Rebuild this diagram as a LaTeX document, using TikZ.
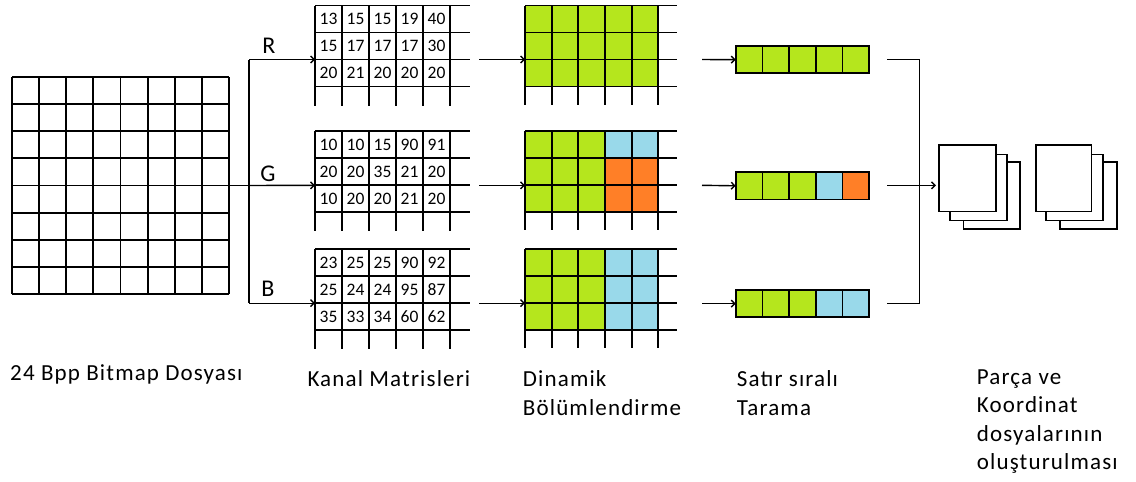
\documentclass[tikz,border=0pt]{standalone}
\usepackage{fontspec}
\setmainfont{Carlito}
\usetikzlibrary{arrows.meta}
\definecolor{pgreen}{HTML}{B5E61D}
\definecolor{pblue}{HTML}{99D9EA}
\definecolor{porange}{HTML}{FF7F27}
\newcommand\chgrid[2]{%
  \foreach \i in {0,...,5} \draw[gridline] ({#1+27*\i},#2) -- ({#1+27*\i},{#2+100});
  \foreach \j in {0,...,3} \draw[gridline] (#1,{#2+27*\j}) -- ({#1+155},{#2+27*\j});
}
\newcommand\dngrid[2]{%
  \foreach \i in {0,...,5} \draw[gridline] ({#1+26.667*\i},#2) -- ({#1+26.667*\i},{#2+99});
  \foreach \j in {0,...,3} \draw[gridline] (#1,{#2+27*\j}) -- ({#1+152},{#2+27*\j});
}
\newcommand\captext[1]{\begin{tabular}[t]{@{}l@{}}#1\end{tabular}}
\begin{document}
\begin{tikzpicture}[x=1pt,y=-1pt,
  gridline/.style={line width=1.8pt,black},
  conn/.style={line width=1.4pt,black},
  arr/.style={conn,-{Straight Barb[length=3.5pt,width=7pt]}},
  box/.style={draw=none,inner sep=0pt,outer sep=0pt},
  lbl/.style={anchor=base west,inner sep=0pt,font=\fontsize{23}{28.5}\selectfont\addfontfeature{LetterSpace=5}},
  chl/.style={anchor=base,inner sep=0pt,font=\fontsize{24}{24}\selectfont},
  num/.style={inner sep=0pt,font=\fontsize{17.5}{17.5}\selectfont},
  cell/.style={draw=black,line width=1.8pt},
  doc/.style={draw=black,fill=white,line width=1.6pt}]
\useasboundingbox (0,0) rectangle (1136,482);

% ---------- bitmap ----------
\node[box,minimum width=217pt,minimum height=217pt] (bmp) at (120.5,185.5) {};
\foreach \i in {0,...,8} {
  \draw[gridline] ({12+27.125*\i},77) -- ({12+27.125*\i},294);
  \draw[gridline] (12,{77+27.125*\i}) -- (229,{77+27.125*\i});
}

% ---------- channel matrices ----------
\chgrid{315}{5.5}
\chgrid{315}{131.3}
\chgrid{315}{249.2}
\node[box,minimum width=135pt,minimum height=81pt] (chR) at (382.5,46) {};
\node[box,minimum width=135pt,minimum height=81pt] (chG) at (382.5,171.8) {};
\node[box,minimum width=135pt,minimum height=81pt] (chB) at (382.5,289.7) {};
\coordinate (chR-in) at (315,59.5);
\coordinate (chG-in) at (315,185.3);
\coordinate (chB-in) at (315,303.2);

\foreach \row [count=\r from 0] in {{13,15,15,19,40},{15,17,17,17,30},{20,21,20,20,20}}
  \foreach \v [count=\c from 0] in \row
    \node[num] (nR-\r-\c) at ({315+27*(\c+0.5)},{5.5+27*(\r+0.5)}) {\v};
\foreach \row [count=\r from 0] in {{10,10,15,90,91},{20,20,35,21,20},{10,20,20,21,20}}
  \foreach \v [count=\c from 0] in \row
    \node[num] (nG-\r-\c) at ({315+27*(\c+0.5)},{131.3+27*(\r+0.5)}) {\v};
\foreach \row [count=\r from 0] in {{23,25,25,90,92},{25,24,24,95,87},{35,33,34,60,62}}
  \foreach \v [count=\c from 0] in \row
    \node[num] (nB-\r-\c) at ({315+27*(\c+0.5)},{249.2+27*(\r+0.5)}) {\v};

% ---------- split connectors ----------
\coordinate (sT) at (249,59.5);
\coordinate (sM) at (249,185.5);
\coordinate (sB) at (249,303.2);
\draw[conn] (sT) -- (sB);
\draw[conn] (bmp.east) -- (sM);
\draw[arr] (sT) -- (chR-in);
\draw[arr] (sM) -- (chG-in);
\draw[arr] (sB) -- (chB-in);
\node[chl] (lR) at (269,53) {R};
\node[chl] (lG) at (268,181) {G};
\node[chl] (lB) at (268,296) {B};

% ---------- dynamic partitioning ----------
\fill[pgreen] (525,5.5) rectangle ++(133.33,81);
\fill[pgreen] (525,131.3) rectangle ++(80,81);
\fill[pblue] (605,131.3) rectangle ++(53.33,27);
\fill[porange] (605,158.3) rectangle ++(53.33,54);
\fill[pgreen] (525,249.2) rectangle ++(80,81);
\fill[pblue] (605,249.2) rectangle ++(53.33,81);
\dngrid{525}{5.5}
\dngrid{525}{131.3}
\dngrid{525}{249.2}
\coordinate (dR-from) at (479,59.5);
\coordinate (dG-from) at (479,185.3);
\coordinate (dB-from) at (479,303.2);
\coordinate (dR-in) at (525,59.5);
\coordinate (dG-in) at (525,185.3);
\coordinate (dB-in) at (525,303.2);
\draw[arr] (dR-from) -- (dR-in);
\draw[arr] (dG-from) -- (dG-in);
\draw[arr] (dB-from) -- (dB-in);

% ---------- row scan ----------
\foreach \y/\n/\ca/\cb/\cc/\cd/\ce in {59.7/R/pgreen/pgreen/pgreen/pgreen/pgreen,
    185.8/G/pgreen/pgreen/pgreen/pblue/porange,
    303.7/B/pgreen/pgreen/pgreen/pblue/pblue} {
  \node[box,minimum width=133.5pt,minimum height=27.3pt] (s\n) at (802.45,\y) {};
  \foreach \col [count=\k from 0] in {\ca,\cb,\cc,\cd,\ce}
    \draw[cell,fill=\col] ({735.7+26.7*\k},{\y-13.65}) rectangle ++(26.7,27.3);
}
\coordinate (sR-from) at (702,59.5);
\coordinate (sG-from) at (702,185.3);
\coordinate (sB-from) at (702,303.7);
\draw[arr] (sR-from) -- (sR.west);
\draw[arr] (sG-from) -- (sG.west);
\draw[arr] (sB-from) -- (sB.west);

% ---------- merge ----------
\coordinate (oR) at (887,59.5);
\coordinate (oG) at (887,185.3);
\coordinate (oB) at (887,303.7);
\coordinate (jR) at (919.3,59.5);
\coordinate (jB) at (919.3,303.7);
\draw[conn] (oR) -- (jR) -- (jB) -- (oB);

% ---------- document stacks ----------
\draw[doc] (963.3,162) rectangle (1020,228.7);
\draw[doc] (950,154.3) rectangle (1006.7,220.3);
\node[doc,minimum width=56.7pt,minimum height=66.4pt,inner sep=0pt,anchor=north west] (doc1) at (938.3,144.3) {};
\draw[doc] (1060,162) rectangle (1116.7,228.7);
\draw[doc] (1046,154.3) rectangle (1102.7,220.3);
\node[doc,minimum width=55.7pt,minimum height=66.4pt,inner sep=0pt,anchor=north west] (doc2) at (1035,144.3) {};
\coordinate (docin) at (936,185.3);
\draw[arr] (oG) -- (docin);

% ---------- captions ----------
\node[lbl] (c1) at (10,380.7) {\captext{24 Bpp Bitmap Dosyası}};
\node[lbl] (c2) at (307.3,386.7) {\captext{Kanal Matrisleri}};
\node[lbl] (c3) at (522.7,386.7) {\captext{Dinamik\\Bölümlendirme}};
\node[lbl] (c4) at (736.7,386.7) {\captext{Satır sıralı\\Tarama}};
\node[lbl] (c5) at (976.7,384) {\captext{Parça ve\\Koordinat\\dosyalarının\\oluşturulması}};
\end{tikzpicture}
\end{document}
